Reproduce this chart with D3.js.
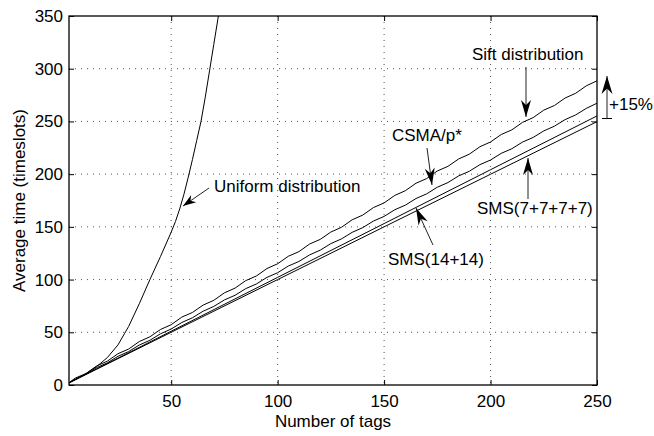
<!DOCTYPE html>
<html>
<head>
<meta charset="utf-8">
<script src="https://cdn.jsdelivr.net/npm/d3@7"></script>
<style>
  body { margin: 0; background: #fff; }
  svg text { font-family: "Liberation Sans", Arial, sans-serif; }
</style>
</head>
<body>
<svg id="chart" width="654" height="436"></svg>
<script>
// data
var xTicks = [50, 100, 150, 200, 250];
var yTicks = [0, 50, 100, 150, 200, 250, 300, 350];

var uniformN = [2, 5, 10, 15, 20, 25, 28, 30, 35, 40, 45, 50, 52, 54, 56, 58, 60, 62, 64, 66, 68, 70, 72, 74];
var uniformT = [2, 5.2, 10.8, 17.5, 26, 38, 48.5, 55.5, 77, 100, 122, 145, 155, 167, 181, 197, 214, 232, 250, 273, 298, 323, 348, 375];

var noisyN = [2, 5, 10, 15, 20, 25, 30, 35, 40, 45, 50, 55, 60, 65, 70, 75, 80, 85, 90, 95, 100,
  105, 110, 115, 120, 125, 130, 135, 140, 145, 150, 155, 160, 165, 170, 175, 180, 185, 190, 195, 200,
  205, 210, 215, 220, 225, 230, 235, 240, 245, 250];
var siftT = [2.3, 6.6, 10.9, 18.1, 22.6, 29.7, 34.1, 41.2, 45.7, 52.7, 57.2, 64.4, 68.8, 75.8, 80.3, 87.4,
  91.9, 99.0, 103.4, 110.5, 115.0, 122.1, 126.5, 133.7, 138.1, 145.1, 149.6, 156.7, 161.2, 168.3, 172.7,
  179.8, 184.3, 191.4, 195.8, 203.0, 207.4, 214.4, 218.9, 226.0, 230.5, 237.6, 242.0, 249.1, 253.6,
  260.7, 265.1, 272.2, 276.7, 283.8, 288.5];
var csmaT = [2.1, 5.6, 10.4, 16.5, 21.0, 27.2, 31.7, 37.9, 42.4, 48.6, 53.1, 59.3, 63.8, 70.0, 74.5, 80.7,
  85.1, 91.4, 95.8, 102.1, 106.5, 112.8, 117.2, 123.4, 127.9, 134.1, 138.6, 144.8, 149.3, 155.5, 159.9,
  166.2, 170.6, 176.9, 181.3, 187.6, 192.0, 198.3, 202.7, 209.0, 213.4, 219.7, 224.1, 230.4, 234.8,
  241.0, 245.5, 251.7, 256.2, 262.4, 267.3];

var smsN = [2, 50, 100, 150, 200, 250];
var sms7T = [2, 51.0, 102.1, 153.1, 204.2, 255.2];
var sms14T = [2, 50.0, 100.0, 150.0, 199.9, 249.8];

var svg = d3.select("#chart"),
    margin = {top: 16, right: 57, bottom: 51, left: 69},
    width = +svg.attr("width") - margin.left - margin.right,
    height = +svg.attr("height") - margin.top - margin.bottom;

var g = svg.append("g").attr("transform", "translate(" + margin.left + "," + margin.top + ")");

var x = d3.scaleLinear().domain([2, 250]).range([0, width]);
var y = d3.scaleLinear().domain([0, 350]).range([height, 0]);

svg.append("defs").append("clipPath").attr("id", "clip")
  .append("rect").attr("width", width).attr("height", height);

// grid
g.selectAll(".vgrid").data(xTicks.filter(d => d < 250)).enter().append("line")
  .attr("x1", d => x(d)).attr("x2", d => x(d)).attr("y1", 0).attr("y2", height)
  .attr("stroke", "#555").attr("stroke-dasharray", "1,5");
g.selectAll(".hgrid").data(yTicks.filter(d => d > 0 && d < 350)).enter().append("line")
  .attr("x1", 0).attr("x2", width).attr("y1", d => y(d)).attr("y2", d => y(d))
  .attr("stroke", "#555").attr("stroke-dasharray", "1,5");

// curves
var line = d3.line().x(d => x(d[0])).y(d => y(d[1]));
var series = [
  d3.zip(uniformN, uniformT),
  d3.zip(noisyN, siftT),
  d3.zip(noisyN, csmaT),
  d3.zip(smsN, sms7T),
  d3.zip(smsN, sms14T)
];
g.append("g").attr("clip-path", "url(#clip)")
  .selectAll("path").data(series).enter().append("path")
  .attr("d", line).attr("fill", "none").attr("stroke", "#000").attr("stroke-width", 1);

// axes, ticks inside like matlab
function styleAxis(sel) {
  sel.select(".domain").remove();
  sel.selectAll("line").attr("stroke", "#000");
  sel.selectAll("text").style("font-size", "17px").attr("fill", "#000");
}
g.append("g").attr("transform", "translate(0," + height + ")")
  .call(d3.axisBottom(x).tickValues(xTicks).tickSize(-5).tickPadding(10))
  .call(styleAxis);
g.append("g")
  .call(d3.axisTop(x).tickValues(xTicks).tickSize(-5).tickFormat(""))
  .call(styleAxis);
g.append("g")
  .call(d3.axisLeft(y).tickValues(yTicks).tickSize(-5).tickPadding(6))
  .call(styleAxis);
g.append("g").attr("transform", "translate(" + width + ",0)")
  .call(d3.axisRight(y).tickValues(yTicks).tickSize(-5).tickFormat(""))
  .call(styleAxis);

g.append("rect").attr("width", width).attr("height", height)
  .attr("fill", "none").attr("stroke", "#000").attr("stroke-width", 1.3);

// axis titles
svg.append("text")
  .attr("x", margin.left + width / 2).attr("y", 427)
  .attr("text-anchor", "middle").style("font-size", "17px")
  .text("Number of tags");
svg.append("text")
  .attr("transform", "translate(25," + (margin.top + height / 2) + ") rotate(-90)")
  .attr("text-anchor", "middle").style("font-size", "17px")
  .text("Average time (timeslots)");

// annotations (page coordinates)
function arrow(x1, y1, x2, y2, len, wid) {
  svg.append("line").attr("x1", x1).attr("y1", y1).attr("x2", x2).attr("y2", y2)
    .attr("stroke", "#222").attr("stroke-width", 1);
  var a = Math.atan2(y2 - y1, x2 - x1),
      ux = Math.cos(a), uy = Math.sin(a), px = -uy, py = ux;
  var bx = x2 - ux * len, by = y2 - uy * len,
      nx = x2 - ux * len * 0.7, ny = y2 - uy * len * 0.7;
  var pts = [[x2, y2], [bx + px * wid / 2, by + py * wid / 2], [nx, ny], [bx - px * wid / 2, by - py * wid / 2]];
  svg.append("polygon").attr("points", pts.map(p => p.join(",")).join(" ")).attr("fill", "#000");
}
function label(tx, ty, s) {
  svg.append("text").attr("x", tx).attr("y", ty).style("font-size", "17px").text(s);
}

label(214, 192, "Uniform distribution");
arrow(209, 188, 183, 206, 13, 9);

label(472, 60, "Sift distribution");
arrow(526, 67, 526, 117, 17, 10);

label(392, 141, "CSMA/p*");
arrow(427, 148, 432, 185, 17, 10);

label(477, 214, "SMS(7+7+7+7)");
arrow(528, 199, 528, 158, 17, 10);

label(388, 265, "SMS(14+14)");
arrow(433, 245, 416, 208, 17, 10);

// +15% bracket
svg.append("line").attr("x1", 602).attr("x2", 612).attr("y1", 118.5).attr("y2", 118.5).attr("stroke", "#000");
arrow(607, 118.5, 607, 76, 18, 11);
label(609, 110, "+15%");
</script>
</body>
</html>
